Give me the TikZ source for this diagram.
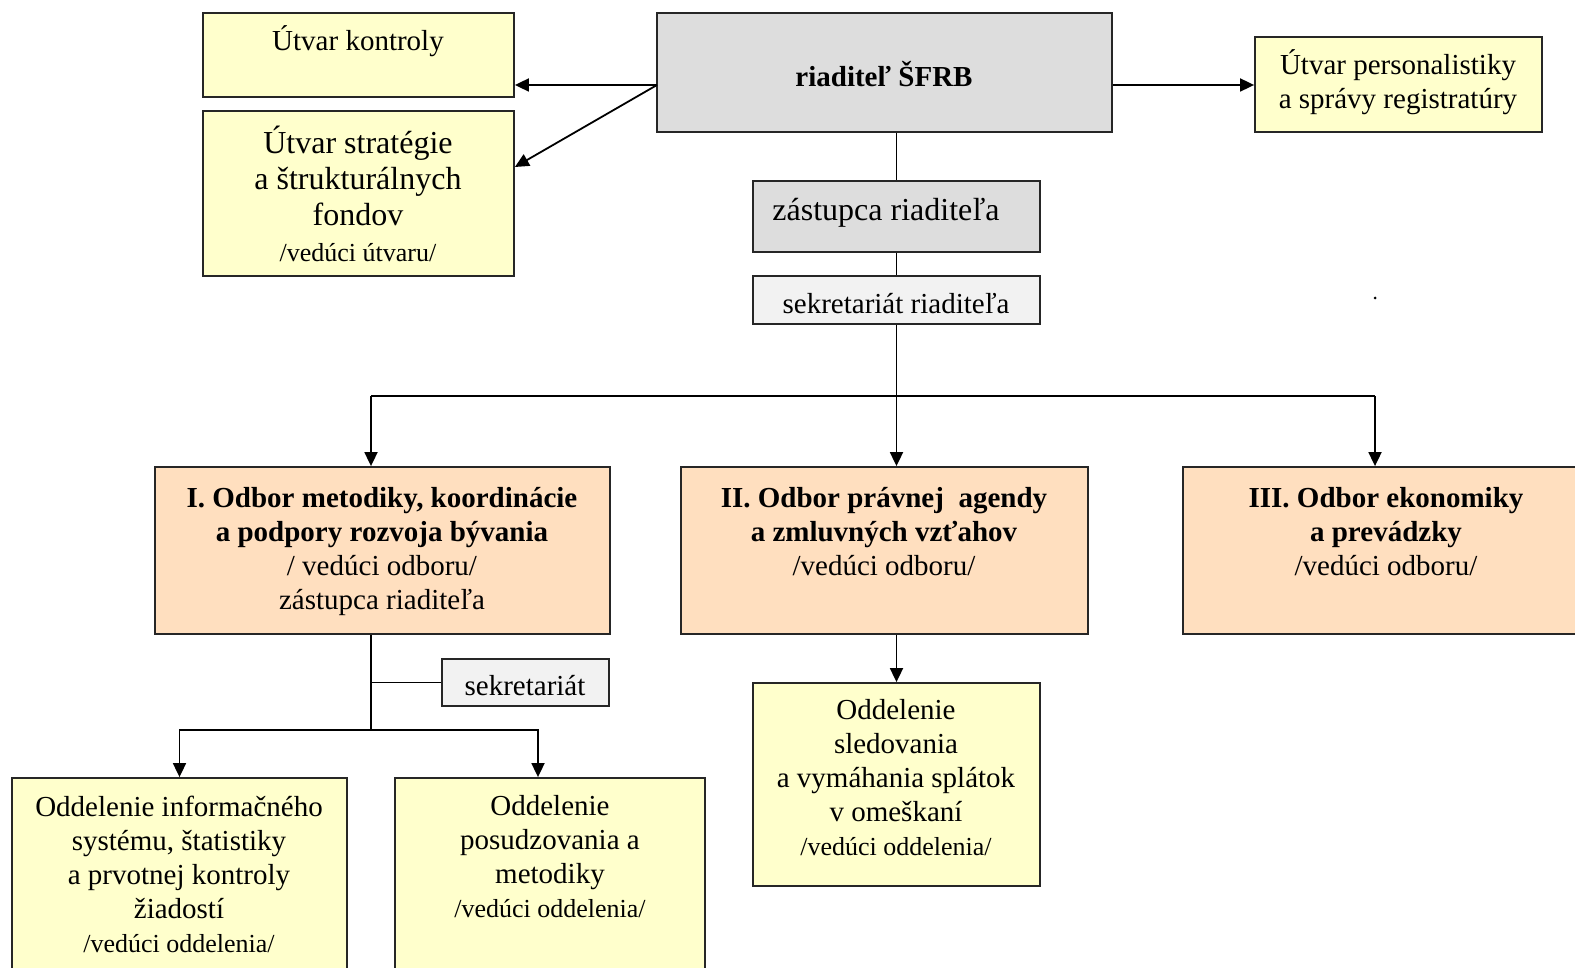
\documentclass[tikz,border=0pt]{standalone}
\usepackage{fontspec}
\setmainfont{Liberation Serif}
\usetikzlibrary{arrows.meta}
\definecolor{yel}{HTML}{FFFFCC}
\definecolor{ora}{HTML}{FFDFBF}
\definecolor{gry}{HTML}{DDDDDD}
\definecolor{sec}{HTML}{F2F2F2}
\tikzset{
  box/.style={draw=black!85, line width=1.8pt, inner sep=0pt},
  yelbox/.style={box, fill=yel},
  orabox/.style={box, fill=ora},
  grybox/.style={box, fill=gry},
  secbox/.style={box, fill=sec},
  txt/.style={align=center, inner sep=0pt, font=\fontsize{29}{34}\selectfont},
  txtbig/.style={align=center, inner sep=0pt, font=\fontsize{32}{36}\selectfont},
  arr/.style={-{Triangle[length=14pt,width=13pt]}, line width=1.8pt},
  conn/.style={line width=1.8pt}
}
\newcommand{\lead}[1]{{\fontsize{26}{30}\selectfont #1}}
\begin{document}
\begin{tikzpicture}
    [x=1pt, y=-1pt]
    \useasboundingbox (0,0) rectangle (1575,968);
    \node[yelbox, minimum width=311pt, minimum height=84pt] (kontrola) at (358.5,55) {};
    \node[yelbox, minimum width=311pt, minimum height=165pt] (strategia) at (358.5,193.5) {};
    \node[grybox, minimum width=455pt, minimum height=119pt] (riaditel) at (884.5,72.5) {};
    \node[yelbox, minimum width=287pt, minimum height=95pt] (personal) at (1398.5,84.5) {};
    \node[grybox, minimum width=287pt, minimum height=71pt] (zastupca) at (896.5,216.5) {};
    \node[secbox, minimum width=287pt, minimum height=48pt] (sekret) at (896.5,300) {};
    \node[orabox, minimum width=455pt, minimum height=167pt] (odbor1) at (382.5,550.5) {};
    \node[orabox, minimum width=407pt, minimum height=167pt] (odbor2) at (884.5,550.5) {};
    \node[orabox, minimum width=400pt, minimum height=167pt] (odbor3) at (1383,550.5) {};
    \node[secbox, minimum width=167pt, minimum height=47pt] (sekr1) at (525.5,682.5) {};
    \node[yelbox, minimum width=287pt, minimum height=203pt] (sledov) at (896.5,784.5) {};
    \node[yelbox, minimum width=335pt, minimum height=212pt] (odd1) at (179.5,884) {};
    \node[yelbox, minimum width=310pt, minimum height=212pt] (odd2) at (550,884) {};

    \node[txt] (kontrola-t) at (358,41) {Útvar kontroly};
    \node[txtbig] (strategia-t) at (358,194) {Útvar stratégie\\a štrukturálnych\\fondov\\\lead{/vedúci útvaru/}};
    \node[txt, font=\fontsize{29}{34}\selectfont\bfseries] (riaditel-t) at (884,74) {riaditeľ ŠFRB};
    \node[txt] (personal-t) at (1398,82) {Útvar personalistiky\\a správy registratúry};
    \node[txtbig] (zastupca-t) at (886,213) {zástupca riaditeľa};
    \node[txt] (sekret-t) at (896,304) {sekretariát riaditeľa};
    \node[txt] (odbor1-t) at (382,551.5) {\textbf{I. Odbor metodiky, koordinácie}\\\textbf{a podpory rozvoja bývania}\\/ vedúci odboru/\\zástupca riaditeľa};
    \node[txt] (odbor2-t) at (884,531.5) {\textbf{II. Odbor právnej \ agendy}\\\textbf{a zmluvných vzťahov}\\/vedúci odboru/};
    \node[txt] (odbor3-t) at (1386,531.5) {\textbf{III. Odbor ekonomiky}\\\textbf{a prevádzky}\\/vedúci odboru/};
    \node[txt] (sekr1-t) at (525,686) {sekretariát};
    \node[txt] (sledov-t) at (896,778) {Oddelenie\\sledovania\\a vymáhania splátok\\v omeškaní\\\lead{/vedúci oddelenia/}};
    \node[txt] (odd1-t) at (179,874) {Oddelenie informačného\\systému, štatistiky\\a prvotnej kontroly\\žiadostí\\\lead{/vedúci oddelenia/}};
    \node[txt] (odd2-t) at (550,856.5) {Oddelenie\\posudzovania a\\metodiky\\\lead{/vedúci oddelenia/}};

    \coordinate (fork) at (657,85);
    \coordinate (b1) at (371,396);
    \coordinate (bus) at (896.5,396);
    \coordinate (b3) at (1375,396);
    \coordinate (s1) at (371,730);
    \coordinate (c2) at (538,730);

    \draw[arr] (fork) -- (fork -| kontrola.east);
    \draw[arr] (fork) -- ([yshift=26.5pt]strategia.east);
    \draw[arr] (fork -| riaditel.east) -- (fork -| personal.west);
    \draw[conn] (zastupca.north |- riaditel.south) -- (zastupca.north);
    \draw[conn] (zastupca.south) -- (sekret.north);
    \draw[conn] (sekret.south) -- (bus);
    \draw[conn] (b1) -- (b3);
    \draw[arr] (b1) -- (b1 |- odbor1.north);
    \draw[arr] (bus) -- (bus |- odbor2.north);
    \draw[arr] (b3) -- (b3 |- odbor3.north);
    \draw[arr] (bus |- odbor2.south) -- (bus |- sledov.north);
    \draw[conn] (s1 |- odbor1.south) -- (s1);
    \draw[conn] (s1 |- sekr1.west) -- (sekr1.west);
    \draw[arr] (s1) -| (odd1.north);
    \draw[arr] (s1) -- (c2) -- (c2 |- odd2.north);
    \fill (1375,298) circle (1.5pt);
  \end{tikzpicture}
\end{document}
